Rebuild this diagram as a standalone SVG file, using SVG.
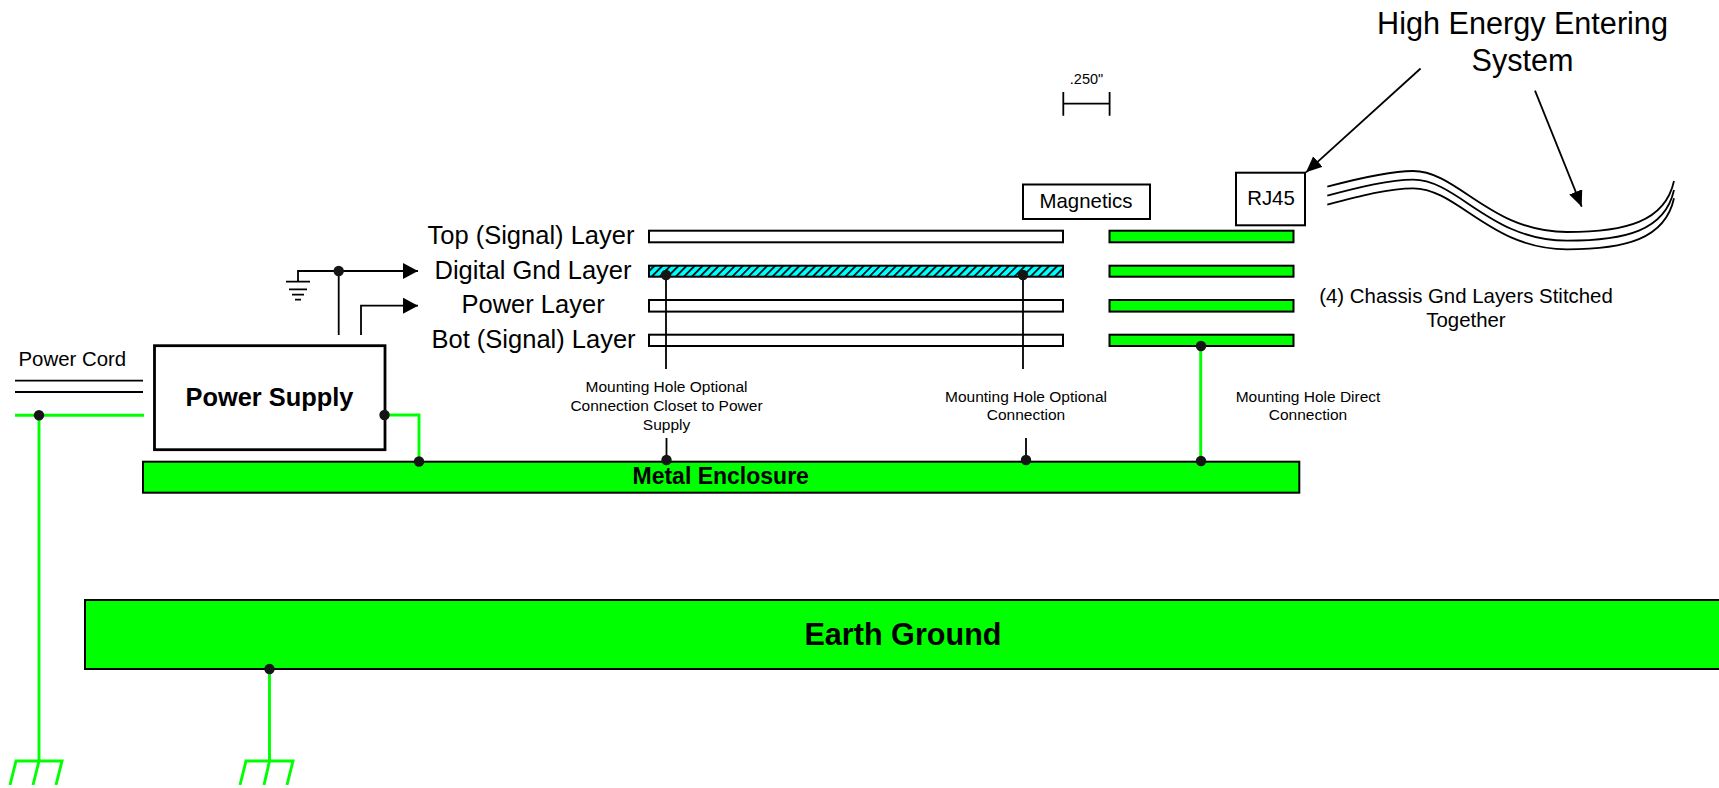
<svg xmlns="http://www.w3.org/2000/svg" width="1719" height="788" viewBox="0 0 1719 788">
<style>
text{font-family:"Liberation Sans",Arial,sans-serif;fill:#000}
.b{font-weight:bold}
.m{text-anchor:middle}
.box{fill:#fff;stroke:#000;stroke-width:2}
.gbox{fill:#00ff00;stroke:#000;stroke-width:2}
.k{fill:none;stroke:#000;stroke-width:1.8}
.g{fill:none;stroke:#00ff00;stroke-width:2.9}
.dot{fill:#151515}
.l{font-size:25.5px}
.s{font-size:15.5px}
.n{font-size:20.4px}
</style>
<defs>
<pattern id="hatch" patternUnits="userSpaceOnUse" width="5.7" height="5.7" patternTransform="rotate(45)">
<rect width="5.7" height="5.7" fill="#00ffff"/>
<rect width="1.7" height="5.7" fill="#000"/>
</pattern>
<marker id="ah" markerUnits="userSpaceOnUse" markerWidth="16" markerHeight="17" refX="15" refY="8" orient="auto"><path d="M0,0L15,8L0,16z" fill="#000"/></marker>
<marker id="ah2" markerUnits="userSpaceOnUse" markerWidth="17" markerHeight="15" refX="16" refY="7" orient="auto"><path d="M0,0L16,7L0,14z" fill="#000"/></marker>
</defs>
<g id="earth-ground"><rect class="gbox" x="85" y="600" width="1640" height="69"/><text class="b m" x="903" y="645" font-size="30.6">Earth Ground</text></g>
<g id="metal-enclosure"><rect class="gbox" x="143" y="461.7" width="1156.3" height="31"/><text class="b" x="632.5" y="483.5" font-size="23">Metal Enclosure</text></g>
<g id="power-supply"><rect fill="#fff" stroke="#000" stroke-width="2.8" x="154.5" y="345.7" width="230.5" height="104"/><text class="b m" x="269.5" y="406" font-size="25.4">Power Supply</text></g>
<g id="power-cord"><text class="n" x="18.5" y="366">Power Cord</text></g>
<g id="layer-top"><text class="l" x="427.5" y="244">Top (Signal) Layer</text><rect class="box" x="649" y="230.7" width="414" height="11.6"/><rect class="gbox" x="1109.5" y="230.7" width="184" height="11.6"/></g>
<g id="layer-gnd"><text class="l" x="434.5" y="279">Digital Gnd Layer</text><rect x="649" y="265.7" width="414" height="11" fill="url(#hatch)" stroke="#000" stroke-width="2"/><rect class="gbox" x="1109.5" y="265.7" width="184" height="11"/></g>
<g id="layer-power"><text class="l" x="461.5" y="313">Power Layer</text><rect class="box" x="649" y="300" width="414" height="11.6"/><rect class="gbox" x="1109.5" y="300" width="184" height="11.6"/></g>
<g id="layer-bot"><text class="l" x="431.5" y="348">Bot (Signal) Layer</text><rect class="box" x="649" y="334.7" width="414" height="11.3"/><rect class="gbox" x="1109.5" y="334.7" width="184" height="11.3"/></g>
<g id="magnetics"><rect class="box" x="1023" y="184.5" width="127" height="34.5"/><text class="n m" x="1086" y="208">Magnetics</text></g>
<g id="rj45"><rect class="box" x="1236" y="172.7" width="69" height="52.6"/><text class="n m" x="1271" y="205">RJ45</text></g>
<g id="label-high-energy"><text class="m" x="1522.5" y="33.5" font-size="30.6">High Energy Entering</text><text class="m" x="1522.5" y="70.7" font-size="30.6">System</text></g>
<g id="label-dimension"><text class="m" x="1086.5" y="84" font-size="14.5">.250"</text></g>
<g id="label-chassis"><text class="m" x="1466" y="302.7" font-size="20.4">(4) Chassis Gnd Layers Stitched</text><text class="m" x="1466" y="327" font-size="20.4">Together</text></g>
<g id="label-hole-1"><text class="s m" x="666.5" y="392">Mounting Hole Optional</text><text class="s m" x="666.5" y="411">Connection Closet to Power</text><text class="s m" x="666.5" y="430">Supply</text></g>
<g id="label-hole-2"><text class="s m" x="1026" y="402">Mounting Hole Optional</text><text class="s m" x="1026" y="420">Connection</text></g>
<g id="label-hole-3"><text class="s m" x="1308" y="402.3">Mounting Hole Direct</text><text class="s m" x="1308" y="420">Connection</text></g>
<g id="connectors">
<path class="k" d="M15,380.7H143M15,392H143"/>
<path class="g" d="M15,415.3H144M39,415.3V761M10,785L16,761H62L56,785M33,785L39,761"/>
<path class="g" d="M269.5,669V761M240,785L246,761H293L287,785M264,785L269.5,761"/>
<path class="g" d="M384.5,415H419V461.5"/>
<path class="g" d="M1200.7,346V461"/>
<path class="k" d="M298,281.7V271H418" marker-end="url(#ah)"/>
<path class="k" d="M338.7,271V335"/>
<path class="k" d="M361,335V305.7H418" marker-end="url(#ah)"/>
<path class="k" d="M286,281.7H310M289,289.3H307M292,294.7H304M295,299.7H301"/>
<path class="k" d="M666,275V369M1023,275V369M666.5,438V461M1026,438V461"/>
<path class="k" d="M1063.3,92V115.7M1109.6,92V115.7M1063.3,103.7H1109.6"/>
<path class="k" d="M1420.6,68.5L1306,172.3" marker-end="url(#ah2)"/>
<path class="k" d="M1535,90.7L1581.7,206.7" marker-end="url(#ah2)"/>
<path class="k" d="M1327.3,186.7C1360,178 1390,171 1413,171C1458,171 1490,232 1567,232C1625,232 1665,222 1674,181"/>
<path class="k" d="M1327.3,195.7C1360,187 1390,179.7 1413,179.7C1458,179.7 1490,240.7 1567,240.7C1625,240.7 1665,230.7 1674,190"/>
<path class="k" d="M1327.3,204.7C1360,196 1390,188.3 1413,188.3C1458,188.3 1490,249.3 1567,249.3C1625,249.3 1665,239.3 1674,198.3"/>
<g class="dot"><circle cx="39" cy="415.3" r="5.2"/><circle cx="384.5" cy="415" r="5.2"/><circle cx="419" cy="461.5" r="5.2"/><circle cx="338.7" cy="271" r="5.2"/><circle cx="666" cy="275" r="5.2"/><circle cx="1023" cy="275" r="5.2"/><circle cx="666.5" cy="460" r="5.2"/><circle cx="1026" cy="460" r="5.2"/><circle cx="1201" cy="346" r="5.2"/><circle cx="1201" cy="461" r="5.2"/><circle cx="269.5" cy="669" r="5.2"/></g>
</g>
</svg>
